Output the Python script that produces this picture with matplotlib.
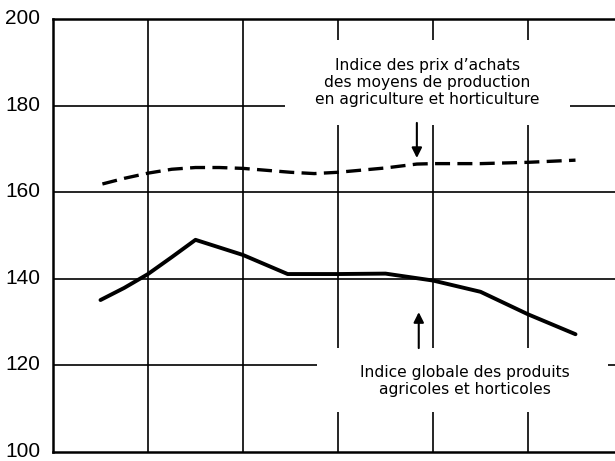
import matplotlib
matplotlib.use("Agg")
import matplotlib.pyplot as plt
import matplotlib.transforms as mtransforms
from matplotlib.patches import Rectangle

plt.rcParams['font.family'] = ['Liberation Sans', 'DejaVu Sans']

# index values (x in grid columns)
achats_x = [0.52, 0.75, 1.0, 1.25, 1.5, 1.75, 2.0, 2.5, 2.75, 3.0, 3.5, 3.83, 4.0, 4.5, 5.0, 5.5]
achats_y = [161.9, 163.2, 164.4, 165.3, 165.7, 165.7, 165.5, 164.6, 164.3, 164.6, 165.6, 166.5, 166.6, 166.6, 166.9, 167.4]

produits_x = [0.5, 0.75, 1.0, 1.25, 1.5, 2.0, 2.47, 3.0, 3.5, 4.0, 4.5, 5.0, 5.5]
produits_y = [135.1, 137.9, 141.1, 145.0, 149.0, 145.5, 141.1, 141.1, 141.2, 139.6, 137.0, 131.8, 127.2]

yticks = [100, 120, 140, 160, 180, 200]
xgrid = [1, 2, 3, 4, 5]

label_achats = "Indice des prix d\u2019achats\ndes moyens de production\nen agriculture et horticulture"
label_produits = "Indice globale des produits\nagricoles et horticoles"

fig = plt.figure(figsize=(6.15, 4.61), dpi=100)
# axes runs past the right edge of the picture, as in the original
ax = fig.add_axes([53 / 615, (461 - 452) / 461, 570 / 615, 433 / 461])
ax.set_xlim(0, 6)
ax.set_ylim(100, 200)

for y in yticks[1:-1]:
    ax.axhline(y, color='black', lw=1.2, zorder=1)
for x in xgrid:
    ax.axvline(x, color='black', lw=1.2, zorder=1)

for side in ['left', 'top', 'bottom']:
    ax.spines[side].set_linewidth(1.8)
ax.spines['right'].set_visible(False)

ax.set_xticks([])
ax.set_yticks(yticks)
ax.tick_params(axis='y', length=0, pad=9, labelsize=15)
shift = mtransforms.ScaledTranslation(0, 2.5 / 100, fig.dpi_scale_trans)
for lab in ax.get_yticklabels():
    lab.set_transform(lab.get_transform() + shift)

# white cut-outs behind the labels
ax.add_patch(Rectangle((2.44, 175.5), 3.0, 19.6, facecolor='white', edgecolor='none', zorder=2))
ax.add_patch(Rectangle((2.78, 109.2), 3.06, 14.8, facecolor='white', edgecolor='none', zorder=2))

ax.plot(achats_x, achats_y, color='black', lw=2.4, ls=(0, (4.5, 2.2)), zorder=3)
ax.plot(produits_x, produits_y, color='black', lw=2.8, solid_capstyle='round', zorder=3)

ax.text(3.94, 185.4, label_achats, ha='center', va='center', fontsize=11.2,
        family='DejaVu Sans', linespacing=1.15, zorder=4)
ax.text(4.34, 116.4, label_produits, ha='center', va='center', fontsize=11.2,
        family='DejaVu Sans', linespacing=1.15, zorder=4)

arrow = dict(arrowstyle='-|>,head_length=0.6,head_width=0.3', color='black', lw=1.5,
             shrinkA=0, shrinkB=0)
ax.annotate('', xy=(3.83, 167.9), xytext=(3.83, 176.0), arrowprops=arrow, zorder=4)
ax.annotate('', xy=(3.85, 132.3), xytext=(3.85, 124.0), arrowprops=arrow, zorder=4)

fig.savefig('out.png', dpi=100)
